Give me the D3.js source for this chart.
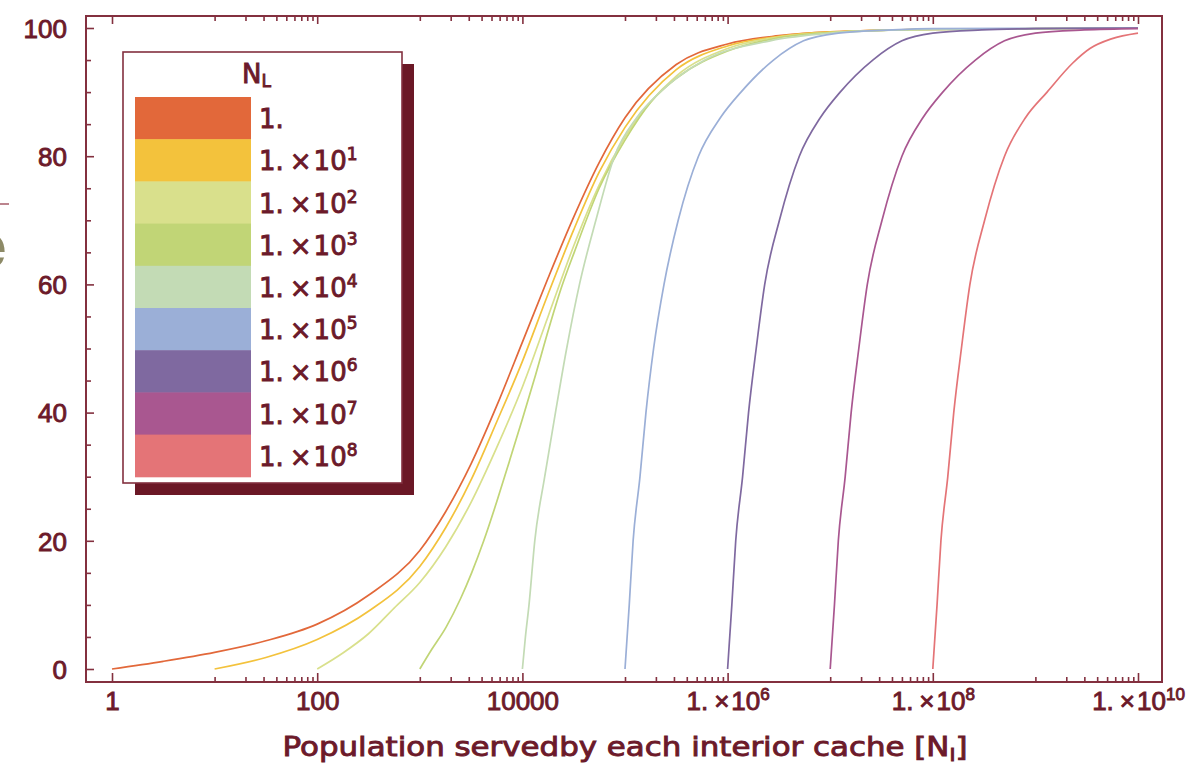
<!DOCTYPE html>
<html>
<head>
<meta charset="utf-8">
<script src="https://cdn.jsdelivr.net/npm/d3@7/dist/d3.min.js"></script>
<style>
	body { margin: 0; background: #fff; }
	svg { display: block; font-family: "DejaVu Sans", "Liberation Sans", sans-serif; }
	.lbl { fill: #6c1a2a; stroke: #6c1a2a; stroke-width: 0.9px; }
</style>
</head>
<body>
<div id="chart"></div>
<script>
// N_L exponents (legend) and curve colours
var levels = [0, 1, 2, 3, 4, 5, 6, 7, 8];
var colors = ['#e2683a', '#f3c23c', '#d9e08c', '#c1d576', '#c3dbb5', '#9bafd7', '#7f69a0', '#a95790', '#e47477'];

// population served N_I  /  hit rate %
var pop0 = [1, 3.16, 10, 31.6, 100, 316, 1e3, 1.78e3, 3.16e3, 5.6e3, 1e4, 1.78e4, 3.16e4, 5.6e4, 1e5, 3.16e5, 1e6, 3.16e6, 1e7, 1e8, 1e10];
var hit0 = [0, 1.2, 2.6, 4.4, 7, 11.5, 18.5, 24.5, 32, 41, 51, 61, 70.5, 79, 86, 94.3, 97.5, 98.8, 99.4, 99.8, 100];
var pop1 = [10, 31.6, 100, 316, 1e3, 1.78e3, 3.16e3, 5.6e3, 1e4, 1.78e4, 3.16e4, 5.6e4, 1e5, 3.16e5, 1e6, 3.16e6, 1e7, 1e8, 1e10];
var hit1 = [0, 1.8, 4.6, 9, 16, 22, 29.5, 38.5, 48, 58.5, 68.5, 77.5, 84.5, 93.5, 97.2, 98.7, 99.4, 99.8, 100];
var pop2 = [100, 178, 316, 562, 1e3, 1.78e3, 3.16e3, 5.6e3, 1e4, 1.78e4, 3.16e4, 5.6e4, 1e5, 3.16e5, 1e6, 3.16e6, 1e7, 1e8, 1e10];
var hit2 = [0, 2.5, 5.5, 9.5, 13.5, 19, 26, 34.5, 44, 55, 66, 75.5, 83, 92.5, 96.8, 98.6, 99.3, 99.8, 100];
var pop3 = [1e3, 1.3e3, 1.8e3, 2.5e3, 3.2e3, 4.2e3, 5.6e3, 7.5e3, 1e4, 1.35e4, 1.8e4, 2.4e4, 3.2e4, 5.6e4, 1e5, 1.8e5, 3.2e5, 1e6, 3.2e6, 1e7, 1e8, 1e10];
var hit3 = [0, 3, 6.5, 11, 15, 20, 26, 32.5, 39, 46, 53, 59.5, 65, 75, 82.5, 88.5, 92.2, 96.4, 98.5, 99.3, 99.8, 100];
var pop4 = [1e4, 1.07e4, 1.16e4, 1.32e4, 1.65e4, 2.1e4, 2.7e4, 3.6e4, 5.2e4, 7.9e4, 1.3e5, 2.2e5, 6e5, 2.6e6, 1e7, 5e7, 1e10];
var hit4 = [0, 5, 10, 20, 30, 40, 50, 60, 70, 80, 86, 90, 95, 98, 99.2, 99.7, 100];
var pop5 = [1e5, 1.1e5, 1.2e5, 1.4e5, 1.6e5, 1.9e5, 2.4e5, 3.3e5, 5.2e5, 8.5e5, 1.35e6, 2.8e6, 5.5e6, 1.2e7, 4e7, 1e8, 1e10];
var hit5 = [0, 10, 20, 30, 40, 50, 60, 70, 80, 86, 90, 95, 98, 99.2, 99.7, 99.9, 100];
var pop6 = [1e6, 1.1e6, 1.2e6, 1.4e6, 1.6e6, 1.9e6, 2.3e6, 3.2e6, 5e6, 8e6, 1.25e7, 2.6e7, 5e7, 1e8, 3e8, 1e9, 1e10];
var hit6 = [0, 10, 20, 30, 40, 50, 60, 70, 80, 86, 90, 95, 98, 99.2, 99.7, 99.9, 100];
var pop7 = [1e7, 1.1e7, 1.2e7, 1.4e7, 1.6e7, 1.9e7, 2.3e7, 3.2e7, 5e7, 8e7, 1.25e8, 2.6e8, 5e8, 1e9, 3e9, 1e10];
var hit7 = [0, 10, 20, 30, 40, 50, 60, 70, 80, 86, 90, 95, 98, 99.2, 99.7, 99.9];
var pop8 = [1e8, 1.1e8, 1.2e8, 1.4e8, 1.6e8, 1.9e8, 2.3e8, 3.2e8, 5e8, 8e8, 1.3e9, 2.3e9, 3.4e9, 5.5e9, 1e10];
var hit8 = [0, 10, 20, 30, 40, 50, 60, 70, 80, 86, 90, 94.5, 96.8, 98.3, 99.2];

// ticks
var xTicks = [1, 100, 1e4, 1e6, 1e8, 1e10];
var yTicks = [0, 20, 40, 60, 80, 100];
var yMinor = [5, 10, 15, 25, 30, 35, 45, 50, 55, 65, 70, 75, 85, 90, 95];

var chart = (function(root){
	var frameInk = '#83303f';
	var W = 1195, H = 770;
	var F = {l: 86, t: 16, r: 1162, b: 682};

	return {
		init: function(){
			var svg = d3.select('#chart').append('svg')
				.attr('width', W)
				.attr('height', H);

			var x = d3.scaleLog().domain([1, 1e10]).range([112, 1138]);
			var y = d3.scaleLinear().domain([0, 100]).range([669, 28]);

			// stray bits at the left edge of the crop
			svg.append('text')
				.attr('x', -29).attr('y', 267)
				.attr('font-family', 'DejaVu Serif')
				.attr('font-size', 62)
				.attr('fill', '#8d8a67')
				.text('e');
			svg.append('line')
				.attr('x1', 0).attr('x2', 9).attr('y1', 204).attr('y2', 204)
				.attr('stroke', '#a65b68').attr('stroke-width', 1.5);

			// minor x ticks: 10..90 x 10^(2k)
			var xMinor = [];
			for (var k = 0; k < 5; k++) {
				for (var j = 1; j < 10; j++) xMinor.push(j * Math.pow(10, 2 * k + 1));
			}

			this.drawCurves(svg, x, y);

			svg.append('rect')
				.attr('x', F.l).attr('y', F.t)
				.attr('width', F.r - F.l).attr('height', F.b - F.t)
				.attr('fill', 'none')
				.attr('stroke', frameInk)
				.attr('stroke-width', 2);

			var gb = svg.append('g').attr('transform', 'translate(0,' + F.b + ')')
				.call(d3.axisBottom(x).tickValues(xTicks).tickSize(-9).tickPadding(10).tickFormat(function(){ return ''; }));
			svg.append('g').attr('transform', 'translate(0,' + F.b + ')')
				.call(d3.axisBottom(x).tickValues(xMinor).tickSize(-5).tickFormat(''));
			svg.append('g').attr('transform', 'translate(0,' + F.t + ')')
				.call(d3.axisTop(x).tickValues(xTicks).tickSize(-8).tickFormat(''));
			svg.append('g').attr('transform', 'translate(0,' + F.t + ')')
				.call(d3.axisTop(x).tickValues(xMinor).tickSize(-5).tickFormat(''));

			var gl = svg.append('g').attr('transform', 'translate(' + F.l + ',0)')
				.call(d3.axisLeft(y).tickValues(yTicks).tickSize(-8).tickPadding(19));
			svg.append('g').attr('transform', 'translate(' + F.l + ',0)')
				.call(d3.axisLeft(y).tickValues(yMinor).tickSize(-5).tickFormat(''));

			svg.selectAll('.domain').remove();
			svg.selectAll('.tick line').attr('stroke', frameInk).attr('stroke-width', 1.6);

			gl.selectAll('text')
				.attr('class', 'lbl')
				.attr('font-size', 26)
				.attr('font-family', null)
				.attr('dy', '0.36em');

			// x labels, powers written as 1.x10^n
			gb.selectAll('.tick text').each(function(d){
				var t = d3.select(this)
					.attr('class', 'lbl')
					.attr('font-size', 26)
					.attr('font-family', null)
					.attr('dy', '0.7em');
				var e = Math.round(Math.log10(d));
				if (d < 1e6) { t.text(String(d)); return; }
				t.append('tspan').text('1.');
				t.append('tspan').attr('dx', 6).text('\u00d7');
				t.append('tspan').attr('dx', 2).text('10');
				t.append('tspan').attr('font-size', 17).attr('dy', -10).text(e);
			});

			// axis title
			var title = svg.append('text')
				.attr('class', 'lbl')
				.attr('x', 625).attr('y', 756)
				.attr('text-anchor', 'middle')
				.attr('font-size', 26)
				.attr('textLength', 685)
				.attr('lengthAdjust', 'spacingAndGlyphs');
			title.append('tspan').text('Population servedby each interior cache [N');
			title.append('tspan').attr('font-size', 17).attr('dy', 5).text('I');
			title.append('tspan').attr('dy', -5).text(']');

			this.drawLegend(svg);
		},

		drawCurves: function(svg, x, y){
			var pops = [pop0, pop1, pop2, pop3, pop4, pop5, pop6, pop7, pop8];
			var hits = [hit0, hit1, hit2, hit3, hit4, hit5, hit6, hit7, hit8];
			var series = pops.map(function(p, i){
				return p.map(function(v, j){ return [v, hits[i][j]]; });
			});
			var line = d3.line()
				.x(function(d){ return x(d[0]); })
				.y(function(d){ return y(d[1]); })
				.curve(d3.curveMonotoneX);

			svg.append('g').selectAll('path')
				.data(series)
				.enter()
				.append('path')
				.attr('d', line)
				.attr('fill', 'none')
				.attr('stroke', function(d, i){ return colors[i]; })
				.attr('stroke-width', 1.7);
		},

		drawLegend: function(svg){
			var bx = 123, by = 52, bw = 279, bh = 431;
			var g = svg.append('g');
			g.append('rect')
				.attr('x', bx + 12).attr('y', by + 12)
				.attr('width', bw).attr('height', bh)
				.attr('fill', '#6b1826');
			g.append('rect')
				.attr('x', bx).attr('y', by)
				.attr('width', bw).attr('height', bh)
				.attr('fill', '#fff')
				.attr('stroke', '#83303f')
				.attr('stroke-width', 1.6);

			var head = g.append('text')
				.attr('class', 'lbl')
				.attr('x', 242).attr('y', 83)
				.attr('font-size', 26);
			head.append('tspan').text('N');
			head.append('tspan').attr('font-size', 17).attr('dy', 4).text('L');

			var sh = 42.2, sy = 97;
			g.selectAll('rect.sw')
				.data(levels)
				.enter()
				.append('rect')
				.attr('class', 'sw')
				.attr('x', 135).attr('y', function(d, i){ return sy + i * sh; })
				.attr('width', 116).attr('height', sh + 0.5)
				.attr('fill', function(d, i){ return colors[i]; });

			g.selectAll('text.lab')
				.data(levels)
				.enter()
				.append('text')
				.attr('class', 'lab lbl')
				.attr('x', 259)
				.attr('y', function(d, i){ return sy + i * sh + sh / 2 + 10; })
				.attr('font-size', 26)
				.each(function(d){
					var t = d3.select(this);
					t.append('tspan').text('1.');
					if (d === 0) return;
					t.append('tspan').attr('dx', 6).text('\u00d7');
					t.append('tspan').attr('dx', 2).text('10');
					t.append('tspan').attr('font-size', 17).attr('dy', -10).text(d);
				});
		}
	};
})(window);

chart.init();
</script>
</body>
</html>
